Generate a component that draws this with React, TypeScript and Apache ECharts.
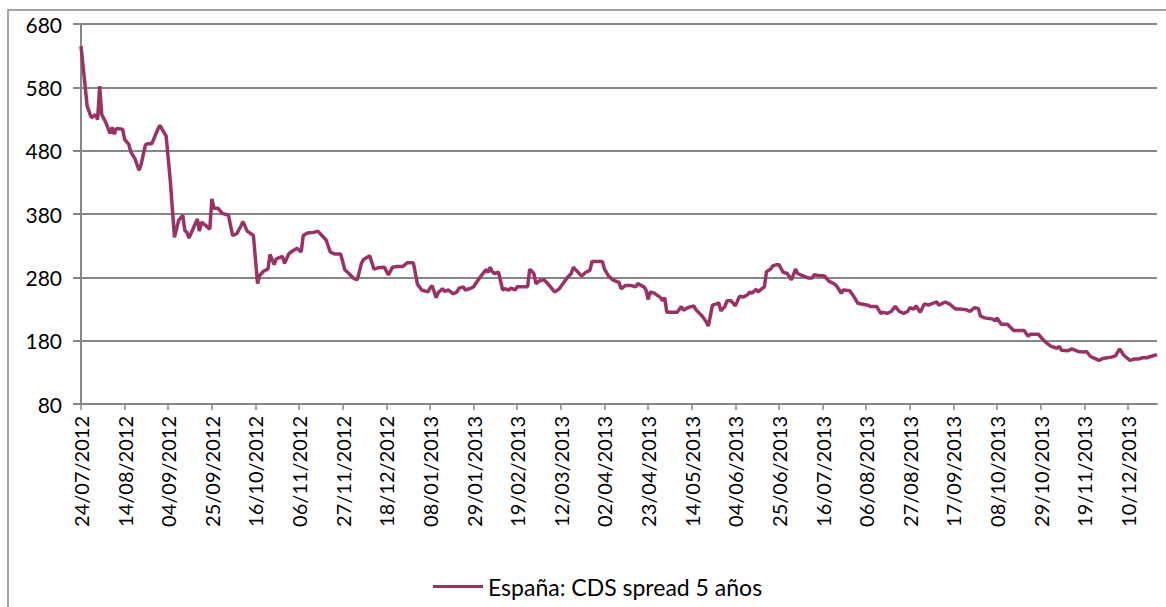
import React, { useEffect, useRef } from "react";
import * as echarts from "echarts";

// Start of the x scale: 24/07/2012 (day 0). Points are days after it.
const START_DATE = "24/07/2012";
const END_DAY = 518; // 24/12/2013

const tickLabels = [
  "24/07/2012", "14/08/2012", "04/09/2012", "25/09/2012", "16/10/2012",
  "06/11/2012", "27/11/2012", "18/12/2012", "08/01/2013", "29/01/2013",
  "19/02/2013", "12/03/2013", "02/04/2013", "23/04/2013", "14/05/2013",
  "04/06/2013", "25/06/2013", "16/07/2013", "06/08/2013", "27/08/2013",
  "17/09/2013", "08/10/2013", "29/10/2013", "19/11/2013", "10/12/2013",
];

const yTicks = [80, 180, 280, 380, 480, 580, 680];

const seriesName = "España: CDS spread 5 años";

const dayOffsets = [
  0, 3, 5, 7, 8, 9, 10, 12, 14, 15, 16, 17, 20, 21, 23, 24, 26, 28, 29, 31,
  32, 34, 35, 37, 38, 39, 41, 43, 45, 47, 49, 50, 51, 52, 54, 56, 57, 58, 60, 62,
  63, 64, 66, 68, 71, 73, 75, 77, 78, 80, 83, 85, 86, 88, 90, 91, 93, 94, 97, 98,
  100, 102, 104, 106, 107, 109, 112, 114, 116, 118, 120, 122, 125, 127, 129, 131, 133, 135, 136, 139,
  141, 143, 146, 148, 150, 152, 155, 157, 160, 162, 164, 167, 168, 169, 171, 172, 174, 175, 177, 179,
  181, 182, 184, 185, 187, 189, 191, 193, 195, 196, 197, 198, 199, 201, 203, 204, 206, 207, 209, 210,
  212, 215, 216, 218, 219, 221, 223, 225, 228, 230, 232, 234, 236, 237, 239, 241, 243, 245, 246, 248,
  251, 252, 254, 256, 259, 260, 262, 265, 267, 268, 271, 272, 273, 274, 276, 279, 280, 281, 282, 285,
  287, 289, 290, 292, 295, 296, 299, 301, 302, 304, 306, 307, 308, 310, 311, 313, 315, 317, 319, 321,
  322, 323, 325, 326, 327, 329, 330, 332, 333, 335, 336, 338, 340, 342, 344, 345, 347, 350, 352, 353,
  355, 358, 360, 363, 364, 366, 367, 370, 372, 374, 377, 379, 380, 383, 385, 386, 388, 390, 392, 394,
  396, 398, 399, 401, 402, 404, 406, 408, 410, 412, 413, 416, 418, 421, 423, 426, 428, 430, 432, 433,
  435, 439, 440, 441, 443, 446, 449, 451, 454, 456, 457, 461, 463, 465, 467, 470, 471, 472, 475, 477,
  480, 483, 484, 486, 488, 490, 492, 494, 496, 498, 500, 501, 502, 505, 507, 509, 511, 513, 515, 517,
  518,
];

const cdsValues = [
  645, 550, 532, 537, 529, 582, 537, 524, 507, 517, 506, 515, 514, 498, 490, 478, 467, 449, 459, 489,
  491, 491, 498, 514, 520, 514, 503, 432, 343, 370, 378, 354, 351, 342, 357, 372, 353, 367, 362, 356,
  404, 389, 389, 381, 378, 346, 349, 361, 368, 353, 346, 270, 283, 290, 293, 316, 300, 309, 313, 302,
  317, 322, 326, 320, 346, 350, 351, 353, 346, 339, 320, 317, 317, 292, 286, 279, 276, 302, 308, 314,
  293, 295, 296, 284, 296, 297, 297, 303, 303, 269, 260, 257, 263, 267, 248, 256, 262, 258, 260, 254,
  257, 263, 265, 260, 262, 265, 275, 284, 292, 288, 296, 289, 286, 288, 260, 262, 260, 263, 260, 265,
  265, 265, 293, 286, 270, 275, 276, 269, 257, 261, 270, 279, 286, 296, 289, 282, 288, 291, 305, 305,
  305, 293, 282, 276, 272, 262, 267, 267, 265, 270, 265, 260, 245, 257, 255, 248, 243, 248, 225, 225,
  225, 234, 228, 232, 235, 229, 219, 210, 203, 236, 238, 240, 227, 234, 243, 243, 235, 250, 249, 253,
  257, 255, 261, 257, 260, 265, 289, 293, 298, 300, 300, 288, 286, 276, 293, 286, 283, 279, 279, 284,
  283, 282, 274, 269, 265, 255, 260, 259, 250, 239, 237, 236, 234, 234, 223, 225, 223, 226, 234, 226,
  223, 226, 232, 230, 235, 225, 238, 236, 239, 241, 236, 241, 238, 230, 230, 229, 226, 232, 231, 219,
  216, 214, 211, 216, 206, 206, 196, 196, 196, 187, 190, 190, 182, 176, 171, 168, 171, 165, 164, 167,
  163, 162, 163, 155, 152, 149, 152, 153, 154, 156, 167, 162, 157, 149, 151, 151, 153, 153, 155, 157,
  158,
];

const DAY_MS = 86400000;
function parseDate(s: string): number {
  const [d, m, y] = s.split("/").map(Number);
  return Date.UTC(y, m - 1, d);
}
const startMs = parseDate(START_DATE);
function pad(n: number) {
  return n < 10 ? "0" + n : String(n);
}
function formatDay(v: number): string {
  const dt = new Date(startMs + Math.round(v) * DAY_MS);
  return pad(dt.getUTCDate()) + "/" + pad(dt.getUTCMonth() + 1) + "/" + dt.getUTCFullYear();
}
const tickOffsets = tickLabels.map((s) => Math.round((parseDate(s) - startMs) / DAY_MS));

const FONT = "Lato, 'Open Sans', sans-serif";
const GRAY = "#868686";
const LINE_COLOR = "#993366";

export default function App() {
  const ref = useRef<HTMLDivElement>(null);

  useEffect(() => {
    if (!ref.current) return;
    const chart = echarts.init(ref.current, undefined, { renderer: "svg" });
    chart.setOption({
      animation: false,
      backgroundColor: "#ffffff",
      textStyle: { fontFamily: FONT },
      graphic: [
        {
          type: "rect",
          shape: { x: 8, y: 10, width: 1400, height: 800 },
          style: { fill: "none", stroke: GRAY, lineWidth: 1.5 },
          silent: true,
        },
      ],
      grid: { left: 81, top: 24, width: 1076, height: 380 },
      legend: {
        left: 428,
        top: 570,
        icon: "rect",
        itemWidth: 50,
        itemHeight: 3,
        textStyle: { fontFamily: FONT, fontSize: 23, color: "#000" },
        data: [seriesName],
      },
      xAxis: {
        type: "value",
        min: 0,
        max: END_DAY,
        splitLine: { show: false },
        axisLine: { show: true, lineStyle: { color: GRAY, width: 2 } },
        axisTick: {
          show: true,
          length: 6,
          customValues: tickOffsets,
          lineStyle: { color: GRAY, width: 1.5 },
        },
        axisLabel: {
          customValues: tickOffsets,
          rotate: 90,
          margin: 12,
          fontFamily: FONT,
          fontSize: 20,
          color: "#000",
          formatter: (v: number) => formatDay(v),
        },
      },
      yAxis: {
        type: "value",
        min: yTicks[0],
        max: yTicks[yTicks.length - 1],
        splitLine: { show: false },
        axisLine: { show: true, lineStyle: { color: GRAY, width: 2 } },
        axisTick: {
          show: true,
          length: 8,
          customValues: yTicks,
          lineStyle: { color: GRAY, width: 2 },
        },
        axisLabel: {
          customValues: yTicks,
          margin: 19,
          fontFamily: FONT,
          fontSize: 21,
          color: "#000",
        },
      },
      series: [
        {
          name: seriesName,
          type: "line",
          data: dayOffsets.map((d, i) => [d, cdsValues[i]]),
          showSymbol: false,
          symbol: "none",
          lineStyle: { color: LINE_COLOR, width: 3.5 },
          itemStyle: { color: LINE_COLOR },
          z: 3,
          markLine: {
            silent: true,
            symbol: ["none", "none"],
            label: { show: false },
            lineStyle: { color: GRAY, width: 2, type: "solid" },
            emphasis: { disabled: true },
            data: yTicks.slice(1).map((v) => ({ yAxis: v })),
            z: 1,
          },
        },
      ],
    });
    return () => chart.dispose();
  }, []);

  return (
    <div
      style={{
        position: "fixed",
        left: 0,
        top: 0,
        width: 1166,
        height: 607,
        overflow: "hidden",
        background: "#fff",
      }}
    >
      <div ref={ref} style={{ width: 1400, height: 607 }} />
    </div>
  );
}
